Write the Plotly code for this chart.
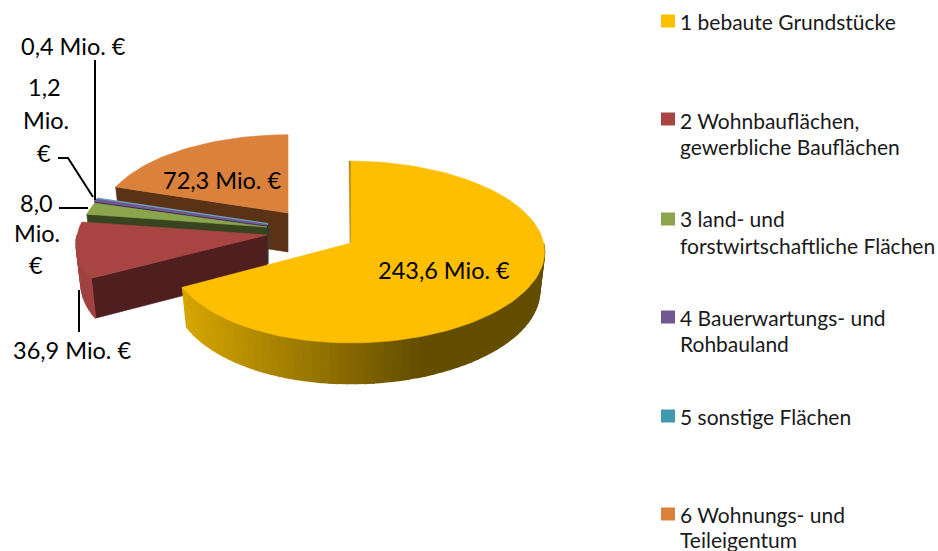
import math
import plotly.graph_objects as go

# --- data ---
categories = ["1 bebaute Grundstücke", "2 Wohnbauflächen, gewerbliche Bauflächen",
              "3 land- und forstwirtschaftliche Flächen", "4 Bauerwartungs- und Rohbauland",
              "5 sonstige Flächen", "6 Wohnungs- und Teileigentum"]
values = [243.6, 36.9, 8.0, 1.2, 0.4, 72.3]
legend_lines = [["1 bebaute Grundstücke"], ["2 Wohnbauflächen,", "gewerbliche Bauflächen"],
                ["3 land- und", "forstwirtschaftliche Flächen"], ["4 Bauerwartungs- und", "Rohbauland"],
                ["5 sonstige Flächen"], ["6 Wohnungs- und", "Teileigentum"]]

# --- style ---
top_colors = ["#FDBF00", "#A84543", "#8AA54C", "#71588F", "#6F9FC0", "#DA813C"]
cut_colors = ["#634E00", "#4F1F20", "#384420", "#3A2D55", "#225060", "#5A3316"]
rim_colors = ["#C9A000", "#A04241", "#6E8A3A", "#5A4575", "#35808F", "#A06030"]
top_edge = [0.6, 0.6, 0.6, 1.5, 2.0, 0.6]
# apex x, apex y, half-width, half-height, left/right lean of each exploded slice
geom = [(351, 243, 187, 90, 0.03), (267, 235, 190, 88, 0), (267, 227, 185, 86, 0),
        (267, 225, 185, 86, 0), (268, 224, 185, 86, 0), (288, 213, 187, 86, 0)]
PERSP, DEPTH, SHRINK = 0.099, 39, 0.975
label_font = "Lato, Carlito, sans-serif"


def proj(g, t, lower=False):
    cx, cy, a, f, lean = g
    d = 1 + PERSP * math.cos(t)
    s = SHRINK if lower else 1
    st = math.sin(t)
    return (cx + a * (1 + lean * st) * st / d * s,
            cy - f * math.cos(t) / d * s + (DEPTH / d if lower else 0))


def poly(fig, pts, color, lw=0.6):
    xs, ys = zip(*pts)
    fig.add_trace(go.Scatter(x=list(xs) + [xs[0]], y=list(ys) + [ys[0]], mode="lines", fill="toself",
                             fillcolor=color, line=dict(color=color, width=lw),
                             hoverinfo="skip", showlegend=False))


def mix(c1, c2, u):
    return "rgb(%d,%d,%d)" % tuple(c1[i] + (c2[i] - c1[i]) * u for i in range(3))


def yellow_shade(x):
    u = min(1.0, max(0.0, (x - 183) / (420 - 183)))
    return mix((0xD6, 0xA6, 0), (0x63, 0x4E, 0), u)


fig = go.Figure()
total = sum(values)
angles = [0.0]
for v in values:
    angles.append(angles[-1] + v / total * 2 * math.pi)

for i in [5, 4, 3, 2, 1, 0]:
    g = geom[i]
    t0, t1 = angles[i], angles[i + 1]
    apex = (g[0], g[1])
    apex_low = (g[0], g[1] + DEPTH)
    if i == 0:
        # inner sliver of the big slice
        p = proj(g, t0)
        poly(fig, [(p[0] - 2, p[1]), (p[0], p[1]), apex, (apex[0] - 1, apex[1])], "#A88A20", 0.5)
    else:
        # cut face at the start edge of the slice, which looks towards the viewer
        poly(fig, [apex, proj(g, t0), proj(g, t0, True), apex_low], cut_colors[i])
    if i == 3:
        # dark inner edge showing beside the red slice
        fig.add_trace(go.Scatter(x=[g[0] + 0.7, g[0] + 0.7], y=[g[1], g[1] + DEPTH], mode="lines",
                                 line=dict(color="#2A3A40", width=1.5), hoverinfo="skip", showlegend=False))
    # outer rim, front half only
    a0, a1 = max(t0, math.pi / 2), min(t1, 3 * math.pi / 2)
    if a1 > a0:
        n = max(2, int((a1 - a0) / math.radians(2.5)))
        for k in range(n):
            u0, u1 = a0 + (a1 - a0) * k / n, a0 + (a1 - a0) * (k + 1) / n
            pa, pb = proj(g, u0), proj(g, u1)
            col = yellow_shade((pa[0] + pb[0]) / 2) if i == 0 else rim_colors[i]
            poly(fig, [pa, pb, proj(g, u1, True), proj(g, u0, True)], col, 1.4)
    # top face
    n = max(2, int((t1 - t0) / math.radians(2)))
    poly(fig, [apex] + [proj(g, t0 + (t1 - t0) * k / n) for k in range(n + 1)], top_colors[i], top_edge[i])


def fmt(v):
    return f"{v:.1f}".replace(".", ",")


ann = []


def text(x, y, s, size, anchor="center"):
    ann.append(dict(x=x, y=y, text=s, showarrow=False, xref="x", yref="y", xanchor=anchor, yanchor="middle",
                    font=dict(family=label_font, size=size, color="#000000")))


LAB = 23.5
text(444, 270, fmt(values[0]) + " Mio. €", LAB)
text(222, 180, fmt(values[5]) + " Mio. €", LAB)
text(73, 46, fmt(values[4]) + " Mio. €", LAB)
text(72, 350, fmt(values[1]) + " Mio. €", LAB)
for y, s, x in zip([87, 120, 153], [fmt(values[3]), "Mio.", "€"], [44, 46, 44]):
    text(x, y, s, LAB)
for y, s, x in zip([203, 233, 265], [fmt(values[2]), "Mio.", "€"], [36, 37, 36]):
    text(x, y, s, LAB)

# leader lines
for xs, ys in [([95, 95], [60, 200]), ([58, 68, 93], [158, 158, 197]),
               ([59, 88], [208, 208]), ([79, 79], [290, 332])]:
    fig.add_trace(go.Scatter(x=xs, y=ys, mode="lines", line=dict(color="#000000", width=2),
                             hoverinfo="skip", showlegend=False))

# legend
shapes = []
legend_y = [[21], [120, 146], [218, 245], [317, 343], [416], [514, 539]]
swatch_y = [21, 119, 219, 317, 416, 514]
for col, lines, ys, sy in zip(top_colors[:4] + ["#4198AF"] + top_colors[5:], legend_lines, legend_y, swatch_y):
    shapes.append(dict(type="rect", x0=661, x1=675, y0=sy - 6.5, y1=sy + 6.5, xref="x", yref="y",
                       fillcolor=col, line=dict(width=0)))
    for s, y in zip(lines, ys):
        ann.append(dict(x=678, y=y, text=s, showarrow=False, xref="x", yref="y", xanchor="left", yanchor="middle",
                        font=dict(family=label_font, size=21, color="#1a1a1a")))

fig.update_layout(width=938, height=551, autosize=False, margin=dict(l=0, r=0, t=0, b=0),
                  paper_bgcolor="white", plot_bgcolor="white", showlegend=False,
                  annotations=ann, shapes=shapes,
                  xaxis=dict(range=[0, 938], visible=False, fixedrange=True),
                  yaxis=dict(range=[551, 0], visible=False, fixedrange=True))
fig.write_html("out.html", config=dict(displayModeBar=False),
               post_script="document.body.style.margin='0';")
